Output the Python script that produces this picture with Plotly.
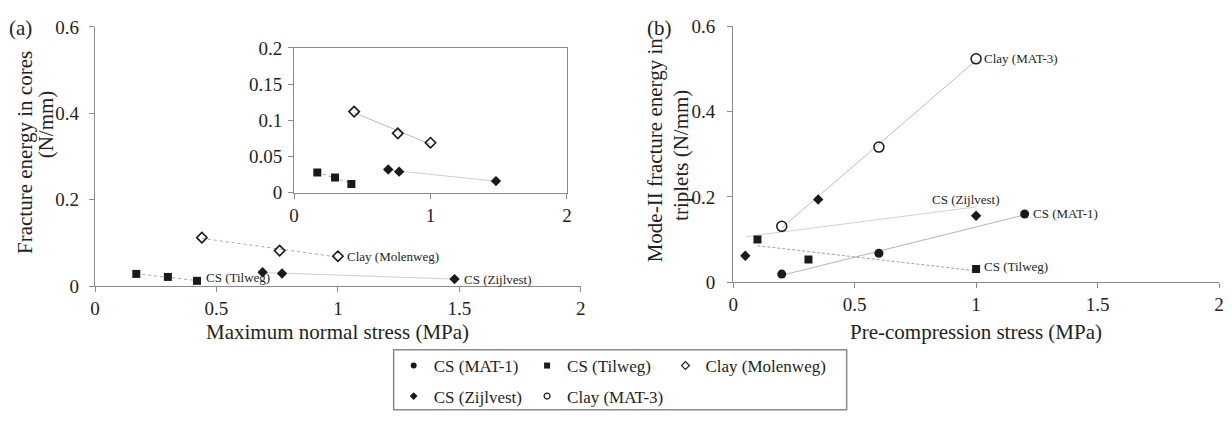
import numpy as np
import plotly.graph_objects as go

# ---------------- data ----------------
# Panel (a): maximum normal stress (MPa) vs fracture energy in cores (N/mm)
tilweg_a_x = [0.17, 0.30, 0.42]
tilweg_a_y = [0.028, 0.021, 0.012]
molenweg_a_x = [0.44, 0.76, 1.00]
molenweg_a_y = [0.112, 0.082, 0.069]
zijlvest_a_x = [0.69, 0.77, 1.48]
zijlvest_a_y = [0.032, 0.029, 0.016]

# Panel (b): pre-compression stress (MPa) vs Mode-II fracture energy (N/mm)
mat1_b_x = [0.20, 0.60, 1.20]
mat1_b_y = [0.019, 0.068, 0.160]
tilweg_b_x = [0.10, 0.31, 1.00]
tilweg_b_y = [0.100, 0.053, 0.031]
zijlvest_b_x = [0.05, 0.35, 1.00]
zijlvest_b_y = [0.062, 0.194, 0.156]
mat3_b_x = [0.20, 0.60, 1.00]
mat3_b_y = [0.131, 0.317, 0.524]

series_names = ["CS (MAT-1)", "CS (Tilweg)", "Clay (Molenweg)", "CS (Zijlvest)", "Clay (MAT-3)"]

main_x_ticks = [0, 0.5, 1, 1.5, 2]
main_y_ticks = [0, 0.2, 0.4, 0.6]
inset_x_ticks = [0, 1, 2]
inset_y_ticks = [0, 0.05, 0.1, 0.15, 0.2]

# ---------------- style ----------------
FONT = "Liberation Serif"
TXT = "#231f20"
AX = "#8a8a8a"
OFF = 8                      # default page margin of the html body
W, H = 1232 - OFF, 422 - OFF
PLOT_L, PLOT_R, PLOT_T, PLOT_B = 95, 1224, 17, 290   # page pixels
ML = PLOT_L - OFF
MR = (W) - (PLOT_R - OFF)
MT = PLOT_T - OFF
MB = H - (PLOT_B - OFF)
PW = PLOT_R - PLOT_L
PH = PLOT_B - PLOT_T


def px_x(p):
    return (p - PLOT_L) / PW


def px_y(p):
    return (PLOT_B - p) / PH


def trend(xs, ys):
    k, b = np.polyfit(xs, ys, 1)
    xx = np.array([min(xs), max(xs)])
    return xx, k * xx + b


fig = go.Figure()

BLK = "#1a1a1a"
mk = {
    "CS (MAT-1)": dict(symbol="circle", size=9, color=BLK),
    "CS (Tilweg)": dict(symbol="square", size=8, color=BLK),
    "Clay (Molenweg)": dict(symbol="diamond-open", size=8, color=BLK, line=dict(width=1.6, color=BLK)),
    "CS (Zijlvest)": dict(symbol="diamond", size=8, color=BLK),
    "Clay (MAT-3)": dict(symbol="circle-open", size=10, color=BLK, line=dict(width=1.5, color=BLK)),
}
mk_leg = {
    "CS (MAT-1)": dict(symbol="circle", size=6, color=BLK),
    "CS (Tilweg)": dict(symbol="square", size=6, color=BLK),
    "Clay (Molenweg)": dict(symbol="diamond-open", size=6, color=BLK, line=dict(width=1.2, color=BLK)),
    "CS (Zijlvest)": dict(symbol="diamond", size=6, color=BLK),
    "Clay (MAT-3)": dict(symbol="circle-open", size=6, color=BLK, line=dict(width=1.2, color=BLK)),
}


def line_trace(xs, ys, xa, ya, color, dash="solid", width=1):
    xx, yy = trend(xs, ys)
    fig.add_trace(go.Scatter(x=xx, y=yy, mode="lines", xaxis=xa, yaxis=ya,
                             line=dict(color=color, width=width, dash=dash),
                             showlegend=False, hoverinfo="skip"))


def pts(xs, ys, xa, ya, name):
    fig.add_trace(go.Scatter(x=xs, y=ys, mode="markers", xaxis=xa, yaxis=ya, name=name,
                             marker=mk[name], showlegend=False))


# trend lines (drawn first, under markers)
line_trace(molenweg_a_x, molenweg_a_y, "x", "y", "#a8a8a8", "dot")
line_trace(tilweg_a_x, tilweg_a_y, "x", "y", "#a8a8a8", "dot")
line_trace(zijlvest_a_x, zijlvest_a_y, "x", "y", "#d0d0d0")
line_trace(molenweg_a_x, molenweg_a_y, "x3", "y3", "#bdbdbd")
line_trace(tilweg_a_x, tilweg_a_y, "x3", "y3", "#a8a8a8", "dot")
line_trace(zijlvest_a_x, zijlvest_a_y, "x3", "y3", "#d0d0d0")
line_trace(mat3_b_x, mat3_b_y, "x2", "y2", "#bdbdbd")
line_trace(zijlvest_b_x, zijlvest_b_y, "x2", "y2", "#d2d2d2")
line_trace(mat1_b_x, mat1_b_y, "x2", "y2", "#b5b5b5")
line_trace(tilweg_b_x, tilweg_b_y, "x2", "y2", "#a0a0a0", "3px,2px")

pts(tilweg_a_x, tilweg_a_y, "x", "y", "CS (Tilweg)")
pts(molenweg_a_x, molenweg_a_y, "x", "y", "Clay (Molenweg)")
pts(zijlvest_a_x, zijlvest_a_y, "x", "y", "CS (Zijlvest)")
pts(tilweg_a_x, tilweg_a_y, "x3", "y3", "CS (Tilweg)")
pts(molenweg_a_x, molenweg_a_y, "x3", "y3", "Clay (Molenweg)")
pts(zijlvest_a_x, zijlvest_a_y, "x3", "y3", "CS (Zijlvest)")
pts(mat1_b_x, mat1_b_y, "x2", "y2", "CS (MAT-1)")
pts(tilweg_b_x, tilweg_b_y, "x2", "y2", "CS (Tilweg)")
pts(zijlvest_b_x, zijlvest_b_y, "x2", "y2", "CS (Zijlvest)")
pts(mat3_b_x, mat3_b_y, "x2", "y2", "Clay (MAT-3)")

# legend entries, one small legend per cell of the 3 x 2 legend grid
leg_ids = ["legend", "legend2", "legend3", "legend4", "legend5"]
leg_text_x = [435, 569, 708, 435, 569]      # page px where each entry's text starts
leg_row_y = [374, 374, 374, 406, 406]
for name, lid in zip(series_names, leg_ids):
    fig.add_trace(go.Scatter(x=[None], y=[None], mode="markers", name=name, marker=mk_leg[name],
                             xaxis="x2", yaxis="y2", showlegend=True, legend=lid))

tickfont = dict(family=FONT, size=19, color=TXT)
axis_common = dict(showline=True, linecolor=AX, linewidth=1.3, showgrid=False, zeroline=False,
                   ticks="outside", ticklen=5, tickwidth=1.2, tickcolor=AX, tickfont=tickfont)


def dom(a, b):
    return [max(0.0, min(1.0, a)), max(0.0, min(1.0, b))]


legends = {}
for lid, tx, ry in zip(leg_ids, leg_text_x, leg_row_y):
    legends[lid] = dict(orientation="h", x=px_x(tx - 40), xanchor="left", y=px_y(ry), yanchor="middle",
                        font=dict(family=FONT, size=17, color=TXT),
                        bgcolor="rgba(0,0,0,0)", borderwidth=0, itemsizing="trace")

fig.update_layout(
    width=W, height=H, margin=dict(l=ML, r=MR, t=MT, b=MB),
    paper_bgcolor="white", plot_bgcolor="white",
    font=dict(family=FONT, color=TXT),
    xaxis=dict(domain=dom(0, px_x(583)), range=[0, 2], tickvals=main_x_ticks,
               ticktext=[f"{v:g}" for v in main_x_ticks], anchor="y", **axis_common),
    yaxis=dict(domain=dom(0, px_y(18)), range=[0, 0.6], tickvals=main_y_ticks,
               ticktext=[f"{v:g}" for v in main_y_ticks], anchor="x", ticklabelstandoff=6, **axis_common),
    xaxis2=dict(domain=dom(px_x(736), 1), range=[0, 2], tickvals=main_x_ticks,
                ticktext=[f"{v:g}" for v in main_x_ticks], anchor="y2", **axis_common),
    yaxis2=dict(domain=dom(px_y(286), px_y(17.5)), range=[0, 0.6], tickvals=main_y_ticks,
                ticktext=[f"{v:g}" for v in main_y_ticks], anchor="x2", ticklabelstandoff=8, **axis_common),
    xaxis3=dict(domain=dom(px_x(295), px_x(569)), range=[0, 2], tickvals=inset_x_ticks,
                ticktext=[f"{v:g}" for v in inset_x_ticks], anchor="y3", mirror=True, **axis_common),
    yaxis3=dict(domain=dom(px_y(192), px_y(40)), range=[0, 0.2], tickvals=inset_y_ticks,
                ticktext=[f"{v:g}" for v in inset_y_ticks], anchor="x3", mirror=True,
                ticklabelstandoff=2, **axis_common),
    **legends,
)

# legend box
fig.add_shape(type="rect", xref="paper", yref="paper",
              x0=px_x(395), x1=px_x(850), y0=px_y(420), y1=px_y(357),
              line=dict(color="#8a8a8a", width=1.5), fillcolor="rgba(0,0,0,0)")

lab = dict(family=FONT, size=13, color=TXT)


def label(text, x, y, xa, ya, xanchor="left", xshift=7, yshift=0):
    fig.add_annotation(text=text, x=x, y=y, xref=xa, yref=ya, showarrow=False,
                       xanchor=xanchor, yanchor="middle", xshift=xshift, yshift=yshift, font=lab)


label("CS (Tilweg)", tilweg_a_x[-1], tilweg_a_y[-1], "x", "y", yshift=3)
label("Clay (Molenweg)", molenweg_a_x[-1], molenweg_a_y[-1], "x", "y")
label("CS (Zijlvest)", zijlvest_a_x[-1], zijlvest_a_y[-1], "x", "y")
label("Clay (MAT-3)", mat3_b_x[-1], mat3_b_y[-1], "x2", "y2", xshift=6)
label("CS (MAT-1)", mat1_b_x[-1], mat1_b_y[-1], "x2", "y2", xshift=6)
label("CS (Tilweg)", tilweg_b_x[-1], tilweg_b_y[-1], "x2", "y2", xshift=6, yshift=2)
label("CS (Zijlvest)", 0.96, 0.194, "x2", "y2", xanchor="center", xshift=0)


def paper_text(text, xp, yp, angle=0, size=21, xanchor="center"):
    fig.add_annotation(text=text, x=px_x(xp), y=px_y(yp), xref="paper", yref="paper",
                       showarrow=False, textangle=angle, xanchor=xanchor, yanchor="middle",
                       font=dict(family=FONT, size=size, color=TXT))


paper_text("Maximum normal stress (MPa)", 339, 338)
paper_text("Pre-compression stress (MPa)", 980, 338)
paper_text("Fracture energy in cores", 24, 150, angle=-90)
paper_text("(N/mm)", 46, 120, angle=-90)
paper_text("Mode-II fracture energy in", 657, 147, angle=-90)
paper_text("triplets (N/mm)", 683, 153, angle=-90)
paper_text("(a)", 20, 19, size=21)
paper_text("(b)", 662, 19, size=21)

fig.write_html("out.html", config={"displayModeBar": False})
